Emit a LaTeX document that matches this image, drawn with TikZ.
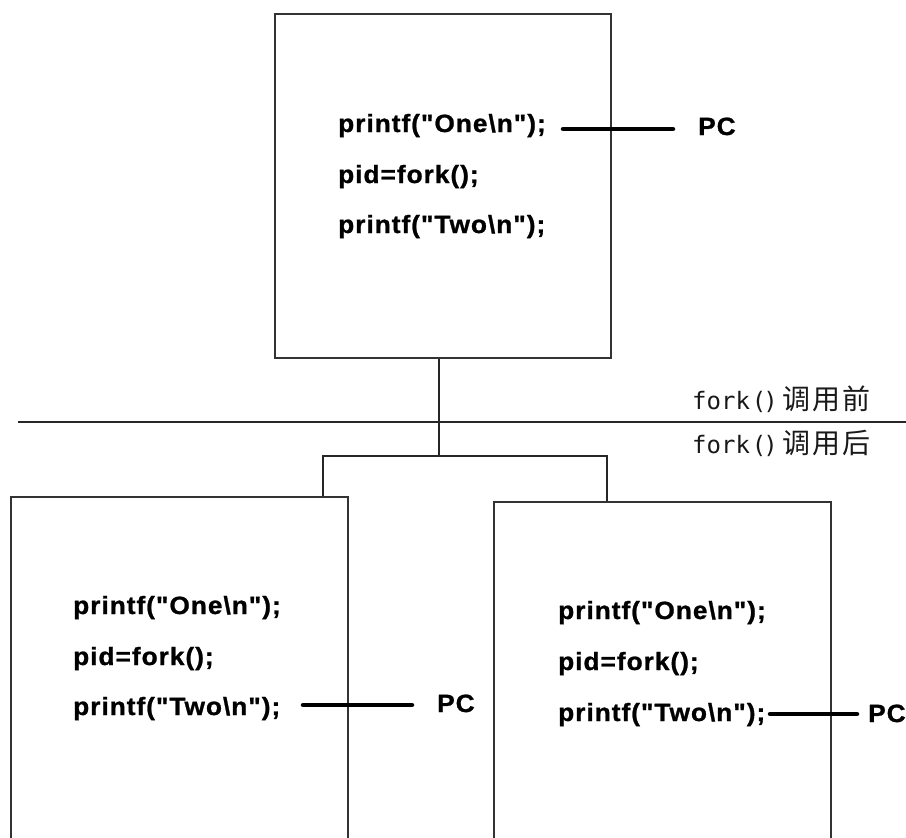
\documentclass[tikz,border=0pt]{standalone}
\usepackage{fontspec}
\setmainfont{Liberation Sans}
\newfontfamily\codefont[FakeStretch=1.05,LetterSpace=4,BoldFeatures={FakeBold=1}]{Liberation Sans}
\newfontfamily\monofont{DejaVu Sans Mono}
\newfontfamily\cjk{Noto Sans CJK SC}
\newcommand{\bs}{\textbackslash}
\newcommand{\forklabel}[1]{{\monofont\fontsize{24}{28}\selectfont fork\kern2pt(\kern-3pt)}\hspace{5pt}{\cjk\fontsize{28}{32}\selectfont 调\hspace{2pt}用\hspace{2pt}#1}}
\begin{document}
\begin{tikzpicture}[x=1pt,y=-1pt,
  box/.style={draw=black!80,line width=1.4pt,inner sep=0pt},
  code/.style={anchor=base west,inner sep=0pt,font=\codefont\bfseries\fontsize{25}{30}\selectfont},
  pcline/.style={line width=4.5pt,line cap=round},
  wire/.style={draw=black!85,line width=1.4pt},
  lab/.style={anchor=base west,inner sep=0pt,text=black!90}]
\useasboundingbox (0,0) rectangle (906,838);
\clip (0,0) rectangle (906,838);
\fill[white] (0,0) rectangle (906,838);

% boxes
\node[box,minimum width=336pt,minimum height=344pt] (top) at (443,186) {};
\node[box,minimum width=337pt,minimum height=420pt] (left) at (179.5,707) {};
\node[box,minimum width=337pt,minimum height=420pt] (right) at (662.5,712) {};

% top box code
\node[code] (t1) at (338,132) {printf("One\bs n");};
\node[code] (t2) at (338,183) {pid=fork();};
\node[code] (t3) at (338,233) {printf("Two\bs n");};
\node[code] (pc0) at (698,135) {PC};
\coordinate (a0) at (563,129);
\coordinate (b0) at (673,129);
\draw[pcline] (a0) -- (b0);

% left box code
\node[code] (l1) at (73,614) {printf("One\bs n");};
\node[code] (l2) at (73,665) {pid=fork();};
\node[code] (l3) at (73,715) {printf("Two\bs n");};
\node[code] (pc1) at (437,712) {PC};
\coordinate (a1) at (303,705);
\coordinate (b1) at (412,705);
\draw[pcline] (a1) -- (b1);

% right box code
\node[code] (r1) at (558,619) {printf("One\bs n");};
\node[code] (r2) at (558,670) {pid=fork();};
\node[code] (r3) at (558,721) {printf("Two\bs n");};
\node[code] (pc2) at (868,722) {PC};
\coordinate (a2) at (770,714);
\coordinate (b2) at (857,714);
\draw[pcline] (a2) -- (b2);

% divider
\coordinate (dl) at (18,422);
\coordinate (dr) at (906,422);
\draw[wire] (dl) -- (dr);

% labels
\node[lab] (before) at (692,409) {\forklabel{前}};
\node[lab] (after) at (692,453) {\forklabel{后}};

% fork tree
\coordinate (j) at (439,456);
\coordinate (jl) at (323,456);
\coordinate (jr) at (607,456);
\draw[wire] (j |- top.south) -- (j);
\draw[wire] (jl |- left.north) -- (jl) -- (jr) -- (jr |- right.north);
\end{tikzpicture}
\end{document}
